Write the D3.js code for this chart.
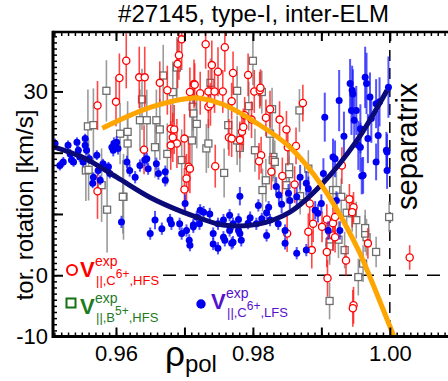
<!DOCTYPE html>
<html><head><meta charset="utf-8">
<script src="https://cdn.jsdelivr.net/npm/d3@7"></script>
<style>body{margin:0;background:#fff;} svg{display:block;font-family:"Liberation Sans",Arial,sans-serif;}</style>
</head><body><svg id="c" width="448" height="381"></svg>
<script>
const title = "#27145, type-I, inter-ELM";
const yLabel = "tor. rotation [km/s]";
const sepLabel = "separatrix";
const xMajorTicks = [0.96, 0.97, 0.98, 0.99, 1.00];
const xLabeledTicks = ["0.96", "0.98", "1.00"];
const yMajorTicks = [-10, 0, 10, 20, 30];
const yLabeledTicks = [-10, 0, 30];

// [rho_pol, v (km/s), error]
const redHFS = [
[0.9573,27.7,4],[0.9615,35.0,4.5],[0.9605,32.2,4],[0.9600,28.3,4],[0.9634,32.3,5],[0.9642,32.3,5],
[0.9573,13.7,4.5],[0.9641,20.5,4],[0.9664,31.4,3.5],[0.9675,30.2,4],[0.9680,23.9,4],[0.9685,23.8,4],
[0.9683,22.5,4],[0.9689,21.5,4],[0.9680,21.2,4],[0.9696,38.5,5],[0.9692,35.9,4],[0.9690,34.5,4],
[0.9714,31.2,4],[0.9708,29.9,4],[0.9700,22.3,4],[0.9706,17.7,4],[0.9708,17.4,4],[0.9703,15.8,4],
[0.9700,14.0,3.5],[0.9731,37.7,4],[0.9759,37.2,4],[0.9740,34.3,4],[0.9749,33.2,4],[0.9771,33.0,3.5],
[0.9715,31.1,3.5],[0.9735,30.0,3.5],[0.9723,29.7,3.5],[0.9744,30.0,3.5],[0.9756,30.0,3.5],[0.9793,32.7,3.5],
[0.9802,30.0,3.5],[0.9810,30.2,3],[0.9811,30.6,3],[0.9769,28.4,3],[0.9735,27.5,3.5],[0.9738,27.9,3.5],
[0.9825,27.1,3],[0.9819,25.7,3],[0.9839,25.4,3],[0.9873,28.1,3],[0.9849,23.8,3],[0.9863,21.1,3],
[0.9851,20.9,3],[0.9784,23.4,3],[0.9786,24.2,3],[0.9781,22.1,3],[0.9788,26.1,3],[0.9798,25.4,3],
[0.9765,22.5,3],[0.9769,22.3,3],[0.9812,19.6,3],[0.9809,18.6,3],[0.9827,16.9,3],[0.9843,16.2,3],
[0.9745,17.8,3.5],[0.9930,17.9,3],[0.9861,14.8,3],[0.9883,11.7,3],[0.9850,6.8,3],[0.9886,4.1,3],
[0.9908,9.1,2.5],[0.9901,7.9,2.5],[0.9917,8.5,2.5],[0.9920,9.5,2.5],[0.9881,7.1,3],[0.9888,8.4,3],
[0.9908,3.8,2.5],[0.9909,-0.5,3],[0.9941,12.4,2.5],[0.9947,11.1,2.5],[0.9945,10.3,2.5],[0.9936,2.4,2.5],
[0.9968,5.2,2.5],[0.9917,6.5,2.5],[0.9920,6.2,2.5],[1.0029,2.9,2],[0.9947,-4.9,3],[0.9946,-5.4,3]
];
const grayB5 = [
[0.9559,24.3,6],[0.9567,24.5,6],[0.9586,30.1,5],[0.9556,17.1,5],[0.9579,14.7,6],[0.9587,10.7,7],
[0.9606,23.1,5],[0.9617,23.4,5],[0.9617,21.5,5],[0.9611,12.8,7],[0.9638,28.7,5],[0.9635,25.3,5],
[0.9645,25.3,5],[0.9659,25.3,5],[0.9664,23.8,5],[0.9657,20.9,5],[0.9669,32.6,5],[0.9689,33.9,5],
[0.9683,29.9,5],[0.9675,19.8,5],[0.9696,18.8,5],[0.9712,27.5,4],[0.9713,26.4,4],[0.9711,22.0,4],
[0.9718,24.7,4],[0.9800,35.0,4],[0.9738,31.4,4],[0.9777,30.1,4],[0.9813,29.9,3.5],[0.9764,24.5,4],
[0.9794,27.6,4],[0.9828,27.1,3.5],[0.9868,26.9,3.5],[0.9732,20.7,4],[0.9735,21.5,4],[0.9777,22.0,4],
[0.9781,20.8,4],[0.9803,20.4,3.5],[0.9825,23.1,3.5],[0.9830,19.3,3.5],[0.9829,18.8,3.5],[0.9832,18.5,3.5],
[0.9758,16.7,4],[0.9819,15.5,3.5],[0.9853,17.6,3],[0.9853,16.5,3],[0.9849,14.7,3],[0.9814,13.9,3.5],
[0.9869,12.9,3],[0.9881,17.4,3],[0.9917,13.9,3],[0.9922,13.9,3],[0.9929,12.8,3],[0.9937,10.2,3],
[0.9945,10.1,3],[0.9951,9.0,3],[0.9912,5.4,3],[0.9925,5.8,3],[0.9912,4.7,3],[0.9934,4.1,3],
[0.9966,6.2,3],[0.9964,6.8,3],[0.9980,3.8,2.5],[0.9954,-0.3,3],[0.9961,1.9,3],[0.9999,9.5,2.5],
[0.9912,-4.2,3],[0.9964,7.7,3],[0.9560,17.2,5],[0.9610,12.8,6]
];
const blueLFS = [
[0.9511,21.5,0.8],[0.9518,17.9,0.8],[0.9523,18.5,0.8],[0.9530,21.2,0.8],[0.9533,19.8,0.8],[0.9535,18.8,0.8],
[0.9538,18.5,0.8],[0.9543,21.7,0.8],[0.9545,20.4,0.8],[0.9547,19.3,0.8],[0.9552,18.5,0.8],[0.9555,22.3,0.8],
[0.9555,21.2,0.8],[0.9557,20.4,0.8],[0.9561,19.0,0.8],[0.9567,16.0,0.8],[0.9566,15.0,0.8],[0.9572,19.6,0.8],
[0.9574,17.1,0.8],[0.9577,15.5,0.8],[0.9581,18.2,0.8],[0.9589,17.7,0.8],[0.9591,16.6,0.8],[0.9594,20.9,1],
[0.9597,21.5,1],[0.9601,21.7,1],[0.9603,20.7,1],[0.9596,20.4,1],[0.9608,8.7,1],[0.9616,18.5,1],
[0.9620,17.1,1],[0.9628,16.0,1],[0.9635,17.9,1],[0.9642,18.8,1],[0.9645,19.0,1],[0.9647,17.4,1],
[0.9650,6.8,1],[0.9657,9.0,1.5],[0.9659,18.2,1],[0.9662,16.6,1],[0.9667,7.6,1],[0.9672,16.9,1],
[0.9672,15.5,1],[0.9679,9.0,1],[0.9681,8.4,1],[0.9693,8.4,1],[0.9696,6.8,1],[0.9703,7.3,1],
[0.9707,5.7,1],[0.9708,4.9,1],[0.9713,8.2,1],[0.9718,9.5,1],[0.9722,8.4,1],[0.9701,11.7,1.5],
[0.9742,5.1,1],[0.9749,4.4,1],[0.9757,6.2,1],[0.9766,7.3,1],[0.9771,5.4,1],[0.9781,6.8,1],
[0.9783,5.7,1],[0.9781,12.9,1.5],[0.9737,10.0,1],[0.9723,10.6,1],[0.9808,11.4,1],[0.9823,11.1,1],
[0.9834,14.5,1.5],[0.9838,13.1,1.5],[0.9852,13.4,1.5],[0.9842,11.6,1.5],[0.9820,10.2,1],[0.9813,9.2,1],
[0.9796,9.4,1],[0.9779,9.1,1],[0.9771,8.4,1],[0.9766,9.8,1],[0.9757,9.0,1],[0.9749,8.4,1],
[0.9728,10.3,1],[0.9713,7.9,1],[0.9742,6.8,1],[0.9759,5.7,1],[0.9769,5.2,1],[0.9779,7.3,1],
[0.9793,8.5,1],[0.9805,8.4,1],[0.9820,6.5,1],[0.9825,9.0,1],[0.9837,8.4,1],[0.9847,7.3,1],
[0.9847,5.2,1],[0.9864,3.6,1],[0.9878,4.1,1],[0.9854,12.2,1.5],[0.9864,12.8,1.5],[0.9869,16.0,2],
[0.9878,15.0,2],[0.9881,14.1,2],[0.9891,10.6,1.5],[0.9895,10.1,1.5],[0.9900,11.7,1.5],[0.9903,16.6,2.5],
[0.9910,7.3,1.5],[0.9922,12.2,1.5],[0.9927,7.3,1.5],[0.9905,25.8,4],[0.9926,28.5,5],[0.9933,22.7,4],
[0.9917,19.3,3],[0.9920,19.0,3],[0.9959,16.2,3],[0.9961,16.3,3],[0.9942,31.3,4],[0.9945,30.2,4],
[0.9946,29.6,4],[0.9944,26.9,4],[0.9948,25.3,4],[0.9951,26.9,4],[0.9964,32.3,5],[0.9966,31.3,5],
[0.9971,29.1,4],[0.9954,21.2,4],[0.9957,20.9,4],[0.9968,22.3,4],[0.9973,25.6,4],[0.9980,28.0,4],
[0.9985,28.3,4],[0.9995,20.4,3],[0.9980,18.5,3],[0.9996,17.1,3],[0.9996,20.1,3],[0.9957,23.9,4],
[0.9983,22.8,4],[0.9998,30.7,5]
];
const hfsFit = [[0.9580,24.0],[0.9650,27.4],[0.9708,28.9],[0.9723,28.9],[0.9756,27.9],[0.9806,24.8],
[0.9854,20.9],[0.9902,14.4],[0.9952,4.6],[0.9971,-0.3],[1.0007,-10.3]];
const lfsFit = [[0.9508,21.0],[0.9552,19.2],[0.9601,16.0],[0.9650,12.7],[0.9698,10.3],[0.9723,9.3],
[0.9756,8.2],[0.9806,8.3],[0.9854,10.3],[0.9902,15.0],[0.9952,22.0],[0.9996,30.2]];
const separatrixRho = 1.00;
const zeroV = 0;

const svg = d3.select("#c");
const L = 53, R = 448, T = 32, B = 336.5;
const x = d3.scaleLinear().domain([0.9508, 1.0085]).range([L, R]);
const y = d3.scaleLinear().domain([-10, 39.7]).range([B, T]);

svg.append("defs").append("clipPath").attr("id","clip")
  .append("rect").attr("x",L).attr("y",T).attr("width",R-L).attr("height",B-T);

const plot = svg.append("g").attr("clip-path","url(#clip)");

// reference lines
plot.append("line").attr("x1",163).attr("x2",R).attr("y1",y(zeroV)).attr("y2",y(zeroV))
  .attr("stroke","#000").attr("stroke-width",1.5).attr("stroke-dasharray","13,9");
plot.append("line").attr("x1",x(separatrixRho)).attr("x2",x(separatrixRho)).attr("y1",T).attr("y2",B)
  .attr("stroke","#000").attr("stroke-width",1.5).attr("stroke-dasharray","11,7");

function errbars(data, color, w, op){
  plot.append("g").selectAll("line").data(data).join("line")
    .attr("x1",d=>x(d[0])).attr("x2",d=>x(d[0]))
    .attr("y1",d=>y(d[1]-d[2])).attr("y2",d=>y(d[1]+d[2]))
    .attr("stroke",color).attr("stroke-width",w).attr("opacity",op);
}
errbars(grayB5,"#8a8a8a",1.6,0.85);
plot.append("g").selectAll("rect").data(grayB5).join("rect")
  .attr("x",d=>x(d[0])-3.5).attr("y",d=>y(d[1])-3.5).attr("width",7).attr("height",7)
  .attr("fill","#fff").attr("stroke","#6e6e6e").attr("stroke-width",1.3);
errbars(redHFS,"#ff1a1a",1.6,0.8);
plot.append("g").selectAll("circle").data(redHFS).join("circle")
  .attr("cx",d=>x(d[0])).attr("cy",d=>y(d[1])).attr("r",3.6)
  .attr("fill","#fff").attr("stroke","#ff0000").attr("stroke-width",1.3);
errbars(blueLFS,"#1a1aff",2,0.75);
plot.append("g").selectAll("circle").data(blueLFS).join("circle")
  .attr("cx",d=>x(d[0])).attr("cy",d=>y(d[1])).attr("r",3.5).attr("fill","#0000f0");

const line = d3.line().x(d=>x(d[0])).y(d=>y(d[1])).curve(d3.curveCatmullRom);
plot.append("path").attr("d",line(lfsFit)).attr("fill","none").attr("stroke","#0a0a78").attr("stroke-width",5);
plot.append("path").attr("d",line(hfsFit)).attr("fill","none").attr("stroke","#ffa500").attr("stroke-width",5);

// axes
const xMinor = d3.range(951, 1009).map(v=>v/1000);
const yMinor = d3.range(-10, 40);
function styleAxis(g){ g.select(".domain").remove(); g.selectAll(".tick line").attr("stroke","#000"); }
const fmtX = d=> { const s = d3.format(".2f")(d); return xLabeledTicks.includes(s)? s : ""; };
svg.append("g").attr("transform",`translate(0,${B})`)
  .call(d3.axisBottom(x).tickValues(xMinor).tickSize(-4).tickFormat("")).call(styleAxis)
  .selectAll(".tick line").attr("stroke-width",1.5);
const xb = svg.append("g").attr("transform",`translate(0,${B})`)
  .call(d3.axisBottom(x).tickValues(xMajorTicks).tickSize(-9).tickPadding(9).tickFormat(fmtX)).call(styleAxis);
xb.selectAll(".tick line").attr("stroke-width",2);
xb.selectAll("text").attr("font-size",22).attr("font-family","Liberation Sans, Arial, sans-serif").attr("fill","#000");
svg.append("g").attr("transform",`translate(0,${T})`)
  .call(d3.axisTop(x).tickValues(xMinor).tickSize(-4).tickFormat("")).call(styleAxis)
  .selectAll(".tick line").attr("stroke-width",1.5);
svg.append("g").attr("transform",`translate(0,${T})`)
  .call(d3.axisTop(x).tickValues(xMajorTicks).tickSize(-9).tickFormat("")).call(styleAxis)
  .selectAll(".tick line").attr("stroke-width",2);
svg.append("g").attr("transform",`translate(${L},0)`)
  .call(d3.axisLeft(y).tickValues(yMinor).tickSize(-4).tickFormat("")).call(styleAxis)
  .selectAll(".tick line").attr("stroke-width",1.5);
const yl = svg.append("g").attr("transform",`translate(${L},0)`)
  .call(d3.axisLeft(y).tickValues(yMajorTicks).tickSize(-10).tickPadding(5)
    .tickFormat(d=> yLabeledTicks.includes(d)? String(d):"")).call(styleAxis);
yl.selectAll(".tick line").attr("stroke-width",2);
yl.selectAll("text").attr("font-size",22).attr("font-family","Liberation Sans, Arial, sans-serif").attr("fill","#000");

// frame
svg.append("line").attr("x1",L).attr("x2",R).attr("y1",T).attr("y2",T).attr("stroke","#000").attr("stroke-width",2.5);
svg.append("line").attr("x1",L).attr("x2",R).attr("y1",B).attr("y2",B).attr("stroke","#000").attr("stroke-width",3);
svg.append("line").attr("x1",L).attr("x2",L).attr("y1",T-1.2).attr("y2",B+1.5).attr("stroke","#000").attr("stroke-width",3);

// texts
svg.append("text").attr("x",253.5).attr("y",22).attr("text-anchor","middle").attr("font-size",24).text(title);
svg.append("text").attr("transform","translate(33,205) rotate(-90)").attr("text-anchor","middle")
  .attr("font-size",24).text(yLabel);
svg.append("text").attr("transform",`translate(${x(separatrixRho)+27},210) rotate(-90)`)
  .attr("font-size",29).text(sepLabel);
const xl = svg.append("text").attr("x",165).attr("y",366);
xl.append("tspan").attr("font-size",35).text("ρ");
xl.append("tspan").attr("font-size",24).attr("dy",6).text("pol");

// legend
function legendEntry(cx, vy, colorText, ion, charge, side, marker){
  const g = svg.append("g");
  marker(g);
  const t = g.append("text").attr("fill",colorText);
  t.append("tspan").attr("x",cx).attr("y",vy).attr("font-size",22).attr("font-weight","bold").text("V");
  t.append("tspan").attr("x",cx+15).attr("y",vy-11).attr("font-size",14).text("exp");
  t.append("tspan").attr("x",cx+16).attr("y",vy+8).attr("font-size",13).text("||,"+ion);
  t.append("tspan").attr("y",vy+1).attr("font-size",12).text(charge);
  t.append("tspan").attr("y",vy+8).attr("font-size",13).text(","+side);
}
legendEntry(80, 277, "#ff0000", "C", "6+", "HFS", g=>g.append("circle").attr("cx",72).attr("cy",270).attr("r",5)
  .attr("fill","none").attr("stroke","#ff0000").attr("stroke-width",2));
legendEntry(80, 314, "#1e7b1e", "B", "5+", "HFS", g=>g.append("rect").attr("x",66.5).attr("y",298.5).attr("width",9).attr("height",9)
  .attr("fill","none").attr("stroke","#157015").attr("stroke-width",2));
legendEntry(211, 309, "#5511cc", "C", "6+", "LFS", g=>g.append("circle").attr("cx",201).attr("cy",304).attr("r",4.7)
  .attr("fill","#0000ee"));
</script></body></html>
